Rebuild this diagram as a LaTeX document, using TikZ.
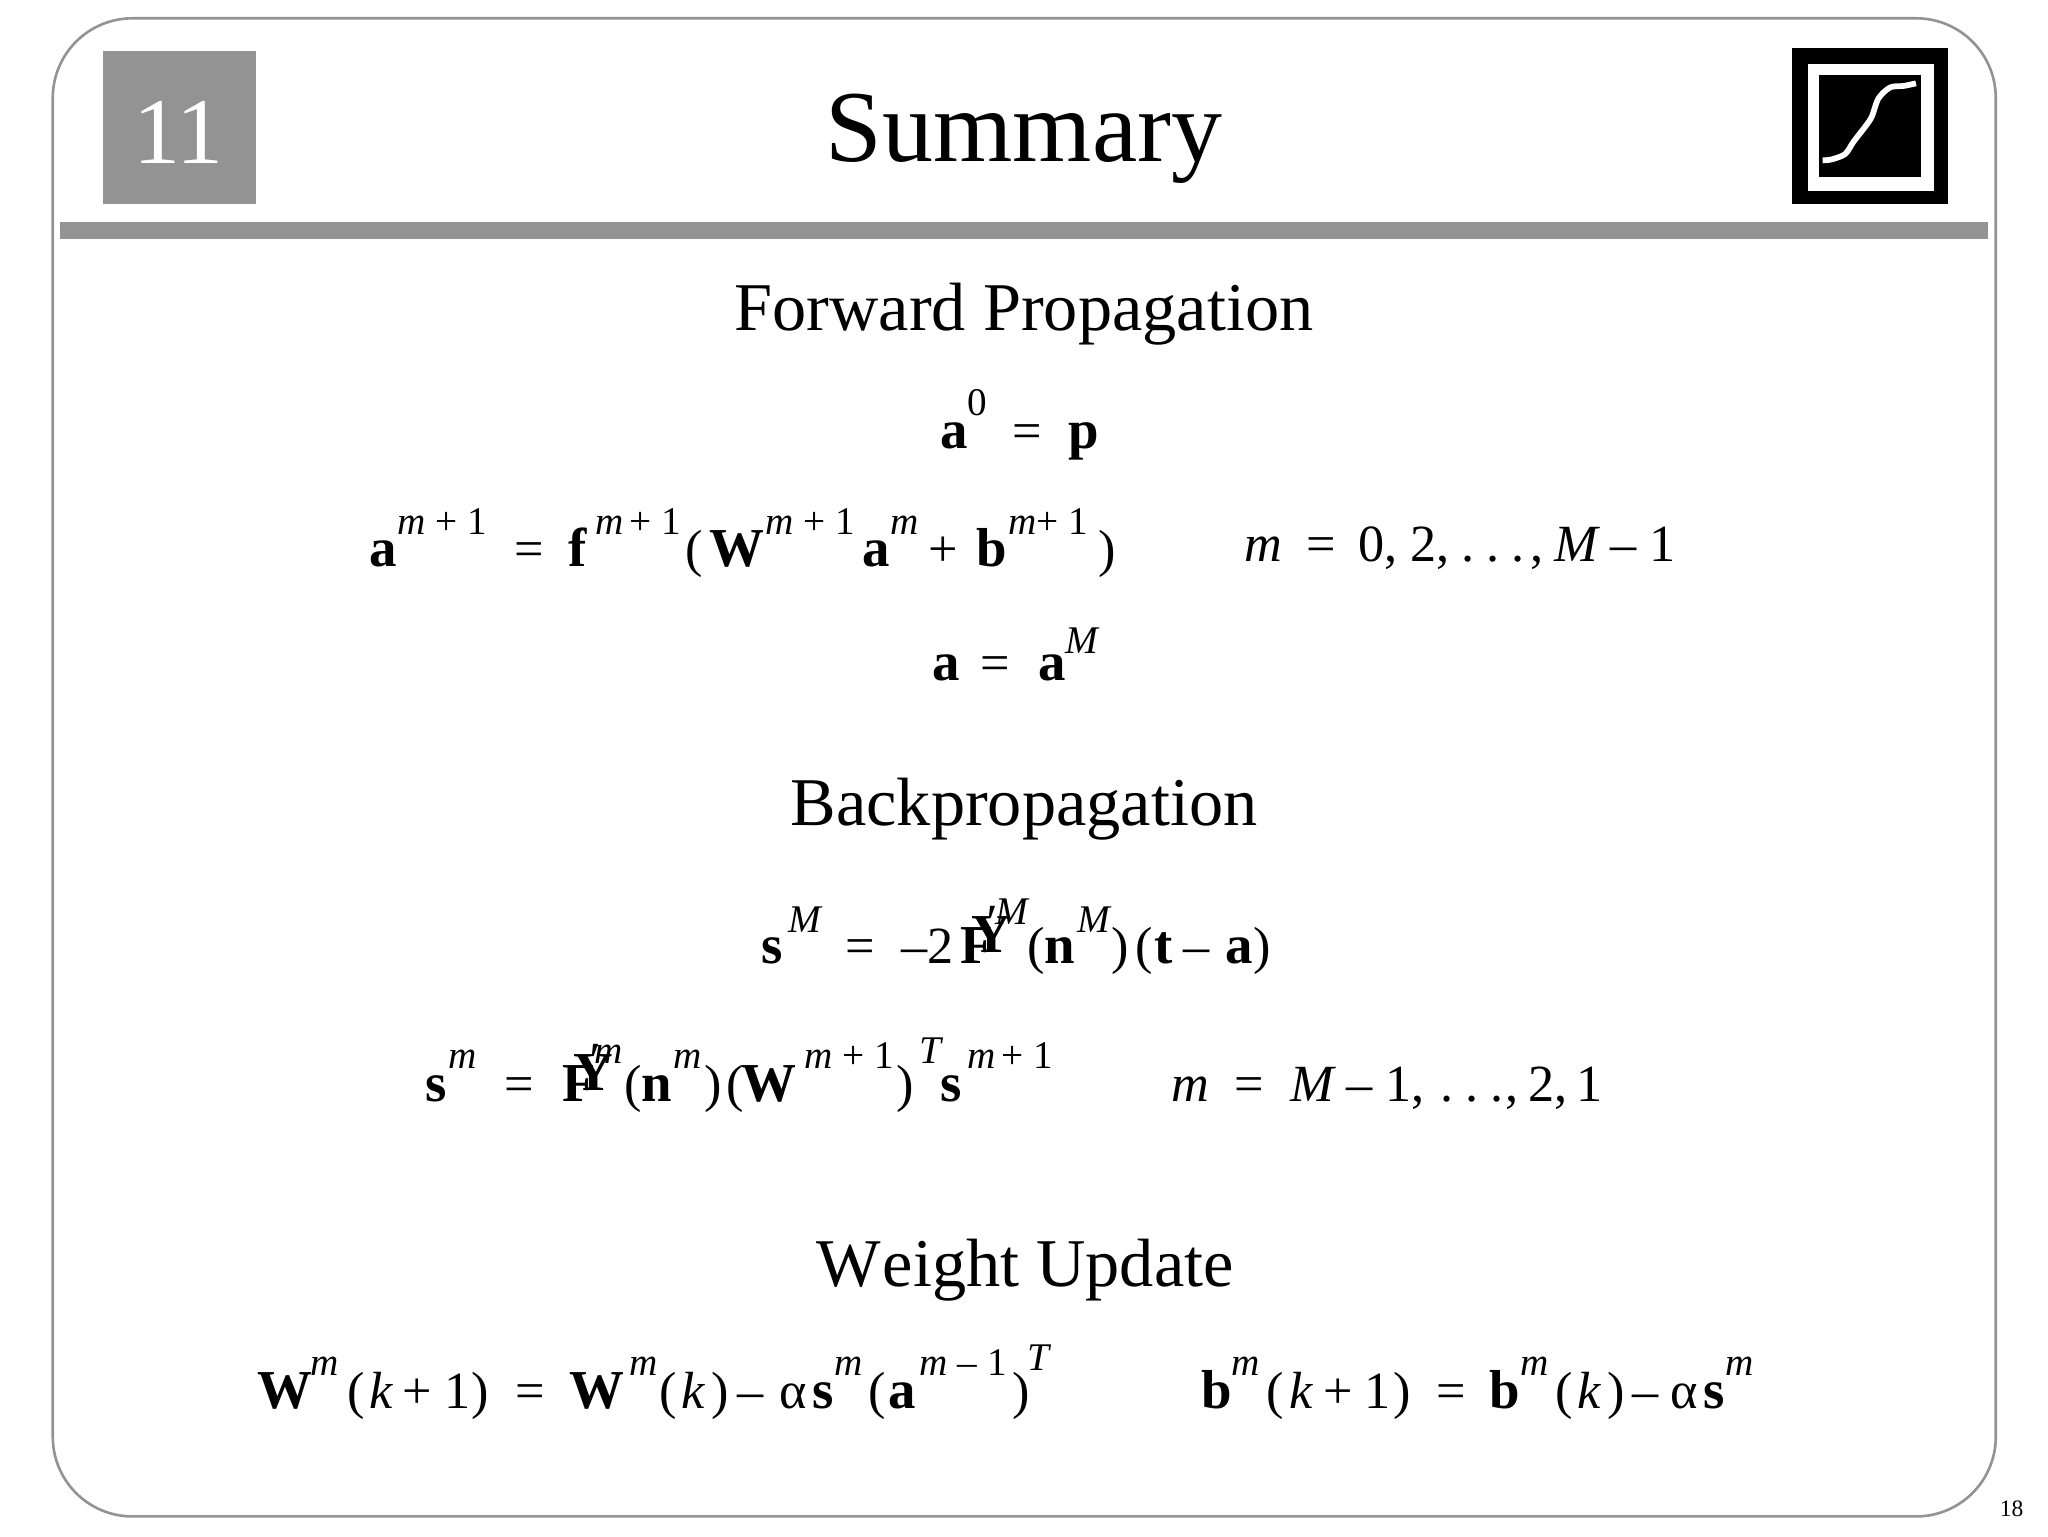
\documentclass[tikz,border=0pt]{standalone}
\usepackage{fontspec}
\setmainfont{Liberation Serif}
\usetikzlibrary{positioning}
\definecolor{slidegray}{HTML}{939393}
\tikzset{
	eqbase/.style={anchor=base west, inner sep=0pt, outer sep=0pt},
	eqbf/.style={eqbase, font=\fontsize{42}{48}\selectfont\bfseries},
	eqit/.style={eqbase, font=\fontsize{40}{48}\selectfont\itshape},
	eqrm/.style={eqbase, font=\fontsize{40}{48}\selectfont},
	supit/.style={eqbase, font=\fontsize{30}{35}\selectfont\itshape},
	suprm/.style={eqbase, font=\fontsize{30}{35}\selectfont},
	primemark/.style={eqbase, font=\fontsize{40}{45}\selectfont\itshape},
	heading/.style={anchor=base, inner sep=0pt, font=\fontsize{52.3}{60}\selectfont},
}
\begin{document}
\begin{tikzpicture}[x=1pt, y=-1pt]
	\useasboundingbox (0,0) rectangle (1568,1176);
	
	% frame and header
	\draw[slidegray, line width=2pt, rounded corners=61pt] (40.4,14) rectangle (1528,1161);
	\fill[slidegray] (78.5,39) rectangle (196,156);
	\fill[slidegray] (46,170) rectangle (1522,183);
	\fill[black] (1372,37) rectangle (1491.5,156);
	\fill[white] (1384.5,49) rectangle (1481,146);
	\fill[black] (1393,57.5) rectangle (1471,135.5);
	\draw[white, line width=4.4pt] plot[smooth, tension=0.5] coordinates {(1395.4,122.8) (1402.5,122) (1412.7,117.9) (1419.1,108.5) (1428,97) (1433.1,89.3) (1438.2,75.3) (1447.2,66.9) (1457.4,65.8) (1466.9,63.8)};
	\node[anchor=base, inner sep=0pt, text=white, font=\fontsize{72}{80}\selectfont] (chapter) at (136.5,125) {11};
	\node[anchor=base, inner sep=0pt, font=\fontsize{78}{90}\selectfont] (title) at (784,124) {Summary};
	\node[anchor=base west, inner sep=0pt, font=\fontsize{18}{20}\selectfont] (pagenum) at (1531,1161) {18};
	
	% forward propagation
	\node[heading] (forward) at (784,253) {Forward Propagation};
	
	\node[eqbf] (a0) at (720,343) {a};
	\node[suprm] (a0sup) at (741,318) {0};
	\node[eqrm] (a0eq) at (775,343) {=};
	\node[eqbf] (a0p) at (818,343) {p};
	
	\node[eqbf] (fa) at (283,434) {a};
	\node[suprm] (fasup) at (304,409) {\textit{m} + 1};
	\node[eqrm] (faeq) at (394,434) {=};
	\node[eqbf] (ff) at (435,434) {f};
	\node[suprm] (ffsup) at (456,409) {\textit{m}\kern4pt+ 1};
	\node[eqrm] (fopen) at (525,434) {(};
	\node[eqbf] (fw) at (543,434) {W};
	\node[suprm] (fwsup) at (586,409) {\textit{m} + 1};
	\node[eqbf] (fam) at (660,434) {a};
	\node[supit] (famsup) at (682,409) {m};
	\node[eqrm] (fplus) at (711,434) {+};
	\node[eqbf] (fb) at (748,434) {b};
	\node[suprm] (fbsup) at (772,409) {\textit{m}+ 1};
	\node[eqrm] (fclose) at (841,434) {)};
	
	\node[eqit] (frm) at (953,430) {m};
	\node[eqrm] (freq) at (1000,430) {=};
	\node[eqrm] (frzero) at (1040,430) {0, 2,\kern9pt.\kern9pt.\kern9pt.\kern5pt,};
	\node[eqit] (frbig) at (1190,430) {M};
	\node[eqrm] (frrest) at (1233,430) {– 1};
	
	\node[eqbf] (al) at (714,521) {a};
	\node[eqrm] (aleq) at (751,521) {=};
	\node[eqbf] (ar) at (795,521) {a};
	\node[supit] (arsup) at (816,500) {M};
	
	% backpropagation
	\node[heading] (back) at (784,632) {Backpropagation};
	
	\node[eqbf] (sbig) at (583,738) {s};
	\node[supit] (sbigsup) at (604,714) {M};
	\node[eqrm] (sbigeq) at (647,738) {=};
	\node[eqrm] (sbigtwo) at (690,738) {–2};
	\node[eqbf] (fbig) at (735,738) {F};
	\node[eqbf] (ybig) at (744,729) {Y};
	\node[primemark] (primebig) at (753,720) {′};
	\node[supit] (ybigsup) at (762,708) {M};
	\node[eqrm] (nbigopen) at (787,738) {(};
	\node[eqbf] (nbig) at (800,738) {n};
	\node[supit] (nbigsup) at (825,714) {M};
	\node[eqrm] (nbigclose) at (851,738) {)\kern5pt(};
	\node[eqbf] (tbig) at (884,738) {t};
	\node[eqrm] (minusbig) at (906,738) {–};
	\node[eqbf] (abig) at (938,738) {a};
	\node[eqrm] (closebig) at (960,738) {)};
	
	\node[eqbf] (ssm) at (326,843) {s};
	\node[supit] (ssmsup) at (343,818) {m};
	\node[eqrm] (ssmeq) at (386,843) {=};
	\node[eqbf] (fsm) at (431,843) {F};
	\node[eqbf] (ysm) at (439,835) {Y};
	\node[primemark] (primesm) at (449,826) {′};
	\node[supit] (ysmsup) at (455,814) {m};
	\node[eqrm] (nsmopen) at (478,843) {(};
	\node[eqbf] (nsm) at (491,843) {n};
	\node[supit] (nsmsup) at (516,818) {m};
	\node[eqrm] (nsmclose) at (539,843) {)};
	\node[eqrm] (wsmopen) at (556,843) {(};
	\node[eqbf] (wsm) at (568,843) {W};
	\node[suprm] (wsmsup) at (616,818) {\textit{m} + 1};
	\node[eqrm] (wsmclose) at (686,843) {)};
	\node[supit] (tsm) at (704,814) {T};
	\node[eqbf] (ssn) at (720,843) {s};
	\node[suprm] (ssnsup) at (741,818) {\textit{m}\kern4pt+ 1};
	
	\node[eqit] (brm) at (897,843) {m};
	\node[eqrm] (breq) at (945,843) {=};
	\node[eqit] (brbig) at (988,843) {M};
	\node[eqrm] (brrest) at (1031,843) {– 1,\kern12pt.\kern9pt.\kern9pt.\kern2pt,\kern7pt 2,\kern7pt 1};
	
	% weight update
	\node[heading] (update) at (785,985) {W\kern1pt eight Update};
	
	\node[eqbf] (wl) at (197,1078) {W};
	\node[supit] (wlsup) at (238,1053) {m};
	\node[eqrm] (wlopen) at (266,1078) {(};
	\node[eqit] (wlk) at (283,1078) {k};
	\node[eqrm] (wlplus) at (308,1078) {+};
	\node[eqrm] (wlone) at (340,1078) {1};
	\node[eqrm] (wlclose) at (361,1078) {)};
	\node[eqrm] (wleq) at (395,1078) {=};
	\node[eqbf] (wr) at (436,1078) {W};
	\node[supit] (wrsup) at (482,1053) {m};
	\node[eqrm] (wropen) at (505,1078) {(};
	\node[eqit] (wrk) at (522,1078) {k};
	\node[eqrm] (wrclose) at (545,1078) {)};
	\node[eqrm] (wrminus) at (565,1078) {–};
	\node[eqrm] (wralpha) at (597,1078) {α};
	\node[eqbf] (wrs) at (622,1078) {s};
	\node[supit] (wrssup) at (639,1053) {m};
	\node[eqrm] (waopen) at (665,1078) {(};
	\node[eqbf] (wa) at (680,1078) {a};
	\node[suprm] (wasup) at (704,1053) {\textit{m} – 1};
	\node[eqrm] (waclose) at (775,1078) {)};
	\node[supit] (wat) at (787,1049) {T};
	
	\node[eqbf] (bl) at (920,1078) {b};
	\node[supit] (blsup) at (943,1053) {m};
	\node[eqrm] (blopen) at (970,1078) {(};
	\node[eqit] (blk) at (987,1078) {k};
	\node[eqrm] (blplus) at (1013,1078) {+};
	\node[eqrm] (blone) at (1045,1078) {1};
	\node[eqrm] (blclose) at (1067,1078) {)};
	\node[eqrm] (bleq) at (1100,1078) {=};
	\node[eqbf] (br) at (1140,1078) {b};
	\node[supit] (brsup) at (1164,1053) {m};
	\node[eqrm] (bropen) at (1191,1078) {(};
	\node[eqit] (brk) at (1208,1078) {k};
	\node[eqrm] (brclose) at (1231,1078) {)};
	\node[eqrm] (brminus) at (1250,1078) {–};
	\node[eqrm] (bralpha) at (1279,1078) {α};
	\node[eqbf] (brs) at (1304,1078) {s};
	\node[supit] (brssup) at (1321,1053) {m};
\end{tikzpicture}
\end{document}
